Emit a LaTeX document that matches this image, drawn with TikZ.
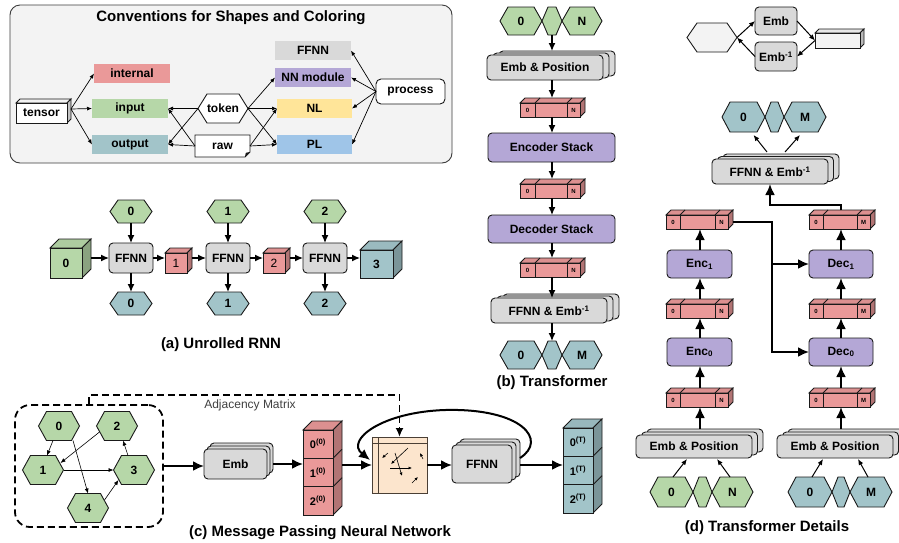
\documentclass[tikz,border=0pt]{standalone}
\usepackage{fontspec}
\setmainfont{Liberation Sans}
\usetikzlibrary{arrows.meta,calc}
\definecolor{cgreen}{HTML}{B6D7A8}
\definecolor{cred}{HTML}{EA9999}
\definecolor{cblue}{HTML}{A2C4C9}
\definecolor{cgray}{HTML}{D9D9D9}
\definecolor{cpurple}{HTML}{B4A7D6}
\definecolor{cyellow}{HTML}{FFE599}
\definecolor{cpl}{HTML}{9FC5E8}
\definecolor{cpeach}{HTML}{FCE5CD}
\definecolor{cbg}{HTML}{F3F3F3}
\definecolor{cline}{HTML}{1A1A1A}
\definecolor{cmat}{HTML}{4A3F35}
\tikzset{
 shapeline/.style={draw=cline, line width=0.9pt},
 txt/.style={inner sep=0pt, outer sep=0pt, font=\fontsize{12}{14}\selectfont\bfseries, text=black},
 rbox/.style={shapeline, rounded corners=4pt, txt},
 flat/.style={txt, minimum width=76, minimum height=19},
 captxt/.style={font=\fontsize{15}{17}\selectfont\bfseries},
 tinylbl/.style={inner sep=0pt, font=\fontsize{6}{7}\selectfont\bfseries},
 thinarr/.style={-{Latex[length=5pt,width=4pt]}, line width=0.7pt},
 marr/.style={-{Latex[length=6pt,width=5pt]}, line width=1pt},
 midarr/.style={-{Latex[length=8pt,width=7pt]}, line width=1.3pt},
 bigarr/.style={-{Latex[length=11pt,width=10pt]}, line width=2pt},
 dashbox/.style={draw=black, line width=1.8pt, dash pattern=on 7pt off 4pt},
}
% hexagon: name, cx, cy, w, h, inset, fill, text
\newcommand{\hexn}[8]{%
  \filldraw[shapeline, fill=#7] ({#2-#4/2},{#3}) -- ({#2-#4/2+#6},{#3-#5/2}) -- ({#2+#4/2-#6},{#3-#5/2}) -- ({#2+#4/2},{#3}) -- ({#2+#4/2-#6},{#3+#5/2}) -- ({#2-#4/2+#6},{#3+#5/2}) -- cycle;
  \node[txt, minimum width={#4}, minimum height={#5}] (#1) at (#2,#3) {#8};
}
% cuboid: name, x1, y1, x2, y2, depth, fill, text
\newcommand{\cuben}[8]{%
  \filldraw[shapeline, fill=#7!95!black] (#2,#3) -- ({#2+#6},{#3-#6}) -- ({#4+#6},{#3-#6}) -- (#4,#3) -- cycle;
  \filldraw[shapeline, fill=#7!76!black] (#4,#3) -- ({#4+#6},{#3-#6}) -- ({#4+#6},{#5-#6}) -- (#4,#5) -- cycle;
  \node[shapeline, txt, fill=#7, minimum width={#4-#2}, minimum height={#5-#3}] (#1) at ({(#2+#4)/2},{(#3+#5)/2}) {#8};
  \coordinate (#1s) at ({#4+#6},{(#3+#5)/2});
}
% stacked boxes: name, x1, y1, x2, y2, dx, dy, fill, text
\newcommand{\stackn}[9]{%
  \filldraw[shapeline, fill=#8, rounded corners=4pt] ({#2+2*#6},{#3-2*#7}) rectangle ({#4+2*#6},{#5-2*#7});
  \filldraw[shapeline, fill=#8, rounded corners=4pt] ({#2+#6},{#3-#7}) rectangle ({#4+#6},{#5-#7});
  \node[rbox, fill=#8, minimum width={#4-#2}, minimum height={#5-#3}] (#1) at ({(#2+#4)/2},{(#3+#5)/2}) {#9};
  \coordinate (#1t) at ({(#2+#4)/2},{#3-2*#7});
  \coordinate (#1r) at ({#4+2*#6},{(#3+#5)/2});
}
% tensor bar: name, x1, y1, x2, y2, c1, c2, left label, right label
\newcommand{\barn}[9]{%
  \filldraw[shapeline, line width=0.8pt, fill=cred!94!black] (#2,#3) -- ({#2+5},{#3-5}) -- ({#4+5},{#3-5}) -- (#4,#3) -- cycle;
  \draw[shapeline, line width=0.8pt] (#6,#3) -- ({#6+5},{#3-5}) (#7,#3) -- ({#7+5},{#3-5});
  \filldraw[shapeline, line width=0.8pt, fill=cred!76!black] (#4,#3) -- ({#4+5},{#3-5}) -- ({#4+5},{#5-5}) -- (#4,#5) -- cycle;
  \node[shapeline, line width=0.8pt, fill=cred, inner sep=0pt, outer sep=0pt, minimum width={#4-#2}, minimum height={#5-#3}] (#1) at ({(#2+#4)/2},{(#3+#5)/2}) {};
  \draw[shapeline, line width=0.8pt] (#6,#3) -- (#6,#5) (#7,#3) -- (#7,#5);
  \node[tinylbl] (#1a) at ({(#2+#6)/2},{(#3+#5)/2}) {#8};
  \node[tinylbl] (#1b) at ({(#7+#4)/2},{(#3+#5)/2}) {#9};
  \coordinate (#1t) at ({(#2+#4)/2+2.5},{#3-5});
  \coordinate (#1s) at ({#4+5},{(#3+#5)/2});
}
% vertical stack of three cells: name, x1, y1, x2, y2, fill, l0, l1, l2
\newcommand{\vstackn}[9]{%
  \filldraw[shapeline, fill=#6!94!black] (#2,#3) -- ({#2+9},{#3-9}) -- ({#4+9},{#3-9}) -- (#4,#3) -- cycle;
  \filldraw[shapeline, fill=#6!76!black] (#4,#3) -- ({#4+9},{#3-9}) -- ({#4+9},{#5-9}) -- (#4,#5) -- cycle;
  \draw[shapeline] (#4,{#3+(#5-#3)/3}) -- ({#4+9},{#3+(#5-#3)/3-9}) (#4,{#3+2*(#5-#3)/3}) -- ({#4+9},{#3+2*(#5-#3)/3-9});
  \node[shapeline, fill=#6, inner sep=0pt, outer sep=0pt, minimum width={#4-#2}, minimum height={#5-#3}] (#1) at ({(#2+#4)/2},{(#3+#5)/2}) {};
  \draw[shapeline] (#2,{#3+(#5-#3)/3}) -- (#4,{#3+(#5-#3)/3}) (#2,{#3+2*(#5-#3)/3}) -- (#4,{#3+2*(#5-#3)/3});
  \node[txt, font=\fontsize{11}{13}\selectfont\bfseries] (#1a) at ({(#2+#4)/2},{#3+(#5-#3)/6}) {#7};
  \node[txt, font=\fontsize{11}{13}\selectfont\bfseries] (#1b) at ({(#2+#4)/2},{#3+(#5-#3)/2}) {#8};
  \node[txt, font=\fontsize{11}{13}\selectfont\bfseries] (#1c) at ({(#2+#4)/2},{#3+5*(#5-#3)/6}) {#9};
  \coordinate (#1s) at ({#4+9},{(#3+#5)/2});
}
\begin{document}
\begin{tikzpicture}[x=1pt,y=-1pt]
\useasboundingbox (0,0) rectangle (899,542);
\fill[white] (0,0) rectangle (899,542);

%% ---------------- Conventions ----------------
\draw[draw=cline!85, fill=cbg, line width=0.9pt, rounded corners=10pt] (10,5) rectangle (452,163);
\node[font=\fontsize{15}{17}\selectfont\bfseries] (convtitle) at (231,18) {Conventions for Shapes and Coloring};
\cuben{tensor}{16}{103}{67}{123}{4}{white}{tensor}
\node[flat, fill=cred] (internal) at (132,73.5) {internal};
\node[flat, fill=cgreen] (input) at (130,108.5) {input};
\node[flat, fill=cblue] (output) at (130,144.5) {output};
\hexn{token}{223}{108.5}{50}{29}{9}{white}{token}
\filldraw[shapeline, fill=white] (195,135) -- (250,135) -- (250,152) -- (245,157) -- (195,157) -- cycle;
\fill[cline] (250,152) -- (245,157) -- (245.8,152.8) -- cycle;
\node[txt, minimum width=55, minimum height=22] (raw) at (222.5,146) {raw};
\node[flat, fill=cgray] (ffnnk) at (313,50.5) {FFNN};
\node[flat, fill=cpurple] (nnmod) at (313,77.5) {NN module};
\node[flat, fill=cyellow, minimum width=75] (nl) at (314.5,108.5) {NL};
\node[flat, fill=cpl, minimum width=75] (pl) at (314.5,144.5) {PL};
\node[rbox, fill=white, rounded corners=5pt, minimum width=69, minimum height=25] (process) at (410.5,91.5) {process};
\draw[thinarr] ($(tensor.east)+(4,-4)$) -- (internal.west);
\draw[thinarr] ($(tensor.east)+(4,-4)$) -- (input.west);
\draw[thinarr] ($(tensor.east)+(4,-4)$) -- (output.west);
\draw[thinarr] (token.west) -- (input.east);
\draw[thinarr] (token.west) -- (output.east);
\draw[thinarr] (raw.west) -- (input.east);
\draw[thinarr] (raw.west) -- (output.east);
\draw[thinarr] (token.east) -- (nnmod.west);
\draw[thinarr] (token.east) -- (nl.west);
\draw[thinarr] (token.east) -- (pl.west);
\draw[thinarr] (raw.east) -- (nl.west);
\draw[thinarr] (raw.east) -- (pl.west);
\draw[thinarr] (process.west) -- (ffnnk.east);
\draw[thinarr] (process.west) -- (nnmod.east);
\draw[thinarr] (process.west) -- (nl.east);
\draw[thinarr] (process.west) -- (pl.east);

%% ---------------- (a) Unrolled RNN ----------------
\cuben{c0}{50}{248}{82}{278}{9}{cgreen}{0}
\cuben{r1}{165}{253}{187}{273}{5}{cred}{\mdseries 1}
\cuben{r2}{263}{253}{285}{273}{5}{cred}{\mdseries 2}
\cuben{c3}{360}{250}{393}{278}{9}{cblue}{3}
\node[rbox, fill=cgray, minimum width=44, minimum height=30] (f1) at (131,258) {FFNN};
\node[rbox, fill=cgray, minimum width=44, minimum height=30] (f2) at (228,258) {FFNN};
\node[rbox, fill=cgray, minimum width=44, minimum height=30] (f3) at (325,258) {FFNN};
\hexn{x0}{131}{211.5}{42}{23}{8}{cgreen}{0}
\hexn{x1}{228}{211.5}{42}{23}{8}{cgreen}{1}
\hexn{x2}{325}{211.5}{42}{23}{8}{cgreen}{2}
\hexn{y0}{131}{303.5}{42}{23}{8}{cblue}{0}
\hexn{y1}{228}{303.5}{42}{23}{8}{cblue}{1}
\hexn{y2}{325}{303.5}{42}{23}{8}{cblue}{2}
\foreach \i in {0,1,2}{
  \pgfmathtruncatemacro\j{\i+1}
  \draw[midarr] (x\i.south) -- (f\j.north);
  \draw[midarr] (f\j.south) -- (y\i.north);
}
\draw[midarr] (f1.west -| c0s) -- (f1.west);
\draw[midarr] (f1.east) -- (f1.east -| r1.west);
\draw[midarr] (f2.west -| r1s) -- (f2.west);
\draw[midarr] (f2.east) -- (f2.east -| r2.west);
\draw[midarr] (f3.west -| r2s) -- (f3.west);
\draw[midarr] (f3.east) -- (f3.east -| c3.west);
\node[captxt] (capa) at (221,345) {(a) Unrolled RNN};

%% ---------------- (b) Transformer ----------------
\coordinate (colb) at (552,0);
\hexn{bg0}{521}{21}{42}{28}{8}{cgreen}{0}
\hexn{bgm}{552}{21}{20}{28}{6}{cgreen}{}
\hexn{bgn}{582}{21}{40}{28}{8}{cgreen}{N}
\stackn{bemb}{487}{55}{603}{80}{6}{2}{cgray}{Emb \& Position}
\barn{bba}{520}{103}{580}{117}{535}{567}{0}{N}
\node[rbox, fill=cpurple, minimum width=127, minimum height=29] (benc) at (551.5,147.5) {Encoder Stack};
\barn{bbb}{520}{184}{580}{198}{535}{567}{0}{N}
\node[rbox, fill=cpurple, minimum width=127, minimum height=28] (bdec) at (551.5,229) {Decoder Stack};
\barn{bbc}{520}{263}{580}{277}{535}{567}{0}{N}
\stackn{bffn}{491}{298}{607}{323}{6}{2}{cgray}{FFNN \& Emb\textsuperscript{-1}}
\hexn{bo0}{521}{355}{42}{28}{8}{cblue}{0}
\hexn{bom}{552}{355}{20}{28}{6}{cblue}{}
\hexn{bon}{582}{355}{40}{28}{8}{cblue}{M}
\draw[midarr] (colb |- bgm.south) -- (colb |- bembt);
\draw[midarr] (colb |- bemb.south) -- (colb |- bbat);
\draw[midarr] (colb |- bba.south) -- (colb |- benc.north);
\draw[midarr] (colb |- benc.south) -- (colb |- bbbt);
\draw[midarr] (colb |- bbb.south) -- (colb |- bdec.north);
\draw[midarr] (colb |- bdec.south) -- (colb |- bbct);
\draw[midarr] (colb |- bbc.south) -- (colb |- bffn.north);
\draw[midarr] (colb |- bffn.south) -- (colb |- bom.north);
\node[captxt] (capb) at (552,383) {(b) Transformer};

%% ---------------- top right legend ----------------
\hexn{thex}{712}{37.5}{50}{29}{10}{cbg}{}
\node[rbox, fill=cgray, minimum width=42, minimum height=28] (temb) at (776,21) {Emb};
\node[rbox, fill=cgray, minimum width=42, minimum height=29] (tembi) at (776,56.5) {Emb\textsuperscript{-1}};
\cuben{tcube}{815}{33}{860}{48}{4}{cbg}{}
\draw[marr] (thex.east) -- (temb.west);
\draw[marr] (temb.east) -- (tcube.west);
\draw[marr] (tcube.west) -- (tembi.east);
\draw[marr] (tembi.west) -- (thex.east);

%% ---------------- (d) Transformer details ----------------
\coordinate (colL) at (700,0);
\coordinate (colR) at (841,0);
\coordinate (jx) at (772,0);
\hexn{dh0}{743.5}{117}{43}{30}{8}{cblue}{0}
\hexn{dhm}{774.5}{117}{19}{30}{6}{cblue}{}
\hexn{dhn}{805}{117}{42}{30}{8}{cblue}{M}
\stackn{dffn}{712}{159}{828}{184}{5.5}{2.5}{cgray}{FFNN \& Emb\textsuperscript{-1}}
\draw[marr] ($(dffn.north)+(-3,-7)$) -- ($(dh0.south)+(10,3)$);
\draw[marr] ($(dffn.north)+(15,-7)$) -- ($(dhn.south)+(-5,3)$);

\barn{dla}{666}{215}{728}{229}{680}{715}{0}{N}
\node[rbox, fill=cpurple, minimum width=65, minimum height=28] (enc1) at (699.5,264) {Enc\textsubscript{1}};
\barn{dlb}{666}{304}{728}{318}{680}{715}{0}{N}
\node[rbox, fill=cpurple, minimum width=65, minimum height=28] (enc0) at (699.5,352) {Enc\textsubscript{0}};
\barn{dlc}{666}{393}{728}{407}{680}{715}{0}{N}
\stackn{dembl}{636}{435}{752}{458}{5.5}{3}{cgray}{Emb \& Position}
\hexn{dg0}{671.5}{492}{43}{30}{8}{cgreen}{0}
\hexn{dgm}{702.5}{492}{19}{30}{6}{cgreen}{}
\hexn{dgn}{732.5}{492}{41}{30}{8}{cgreen}{N}

\barn{dra}{809}{215}{870}{229}{823}{857}{0}{M}
\node[rbox, fill=cpurple, minimum width=64, minimum height=28] (dec1) at (841,264) {Dec\textsubscript{1}};
\barn{drb}{809}{304}{870}{318}{823}{857}{0}{M}
\node[rbox, fill=cpurple, minimum width=64, minimum height=28] (dec0) at (841,352) {Dec\textsubscript{0}};
\barn{drc}{809}{393}{870}{407}{823}{857}{0}{M}
\stackn{dembr}{777}{435}{893}{458}{5.5}{3}{cgray}{Emb \& Position}
\hexn{db0}{810}{492}{44}{30}{8}{cblue}{0}
\hexn{dbm}{841}{492}{18}{30}{6}{cblue}{}
\hexn{dbn}{871}{492}{42}{30}{8}{cblue}{M}

\draw[bigarr] (colL |- demblt) -- (colL |- dlc.south);
\draw[bigarr] (colL |- dlct) -- (colL |- enc0.south);
\draw[bigarr] (colL |- enc0.north) -- (colL |- dlb.south);
\draw[bigarr] (colL |- dlbt) -- (colL |- enc1.south);
\draw[bigarr] (colL |- enc1.north) -- (colL |- dla.south);
\draw[bigarr] (colR |- dembrt) -- (colR |- drc.south);
\draw[bigarr] (colR |- drct) -- (colR |- dec0.south);
\draw[bigarr] (colR |- dec0.north) -- (colR |- drb.south);
\draw[bigarr] (colR |- drbt) -- (colR |- dec1.south);
\draw[bigarr] (colR |- dec1.north) -- (colR |- dra.south);
\draw[bigarr] (dlas) -| (jx |- dec0.west) -- (dec0.west);
\draw[bigarr] (jx |- dec1.west) -- (dec1.west);
\draw[bigarr] (colR |- drat) -- ++(0,-5) -| (dffn.south);
\draw[marr] ($(dg0.north)+(1.5,0)$) -- ($(dembl.south)+(-7,1)$);
\draw[marr] ($(dgn.north)+(-2.5,0)$) -- ($(dembl.south)+(23,1)$);
\draw[marr] ($(db0.north)+(2,0)$) -- ($(dembr.south)+(-12,1)$);
\draw[marr] ($(dbn.north)+(-3,0)$) -- ($(dembr.south)+(23,1)$);
\node[captxt] (capd) at (767,528) {(d) Transformer Details};

%% ---------------- (c) MPNN ----------------
\node[dashbox, rounded corners=15pt, minimum width=148, minimum height=122, inner sep=0pt, outer sep=0pt] (graph) at (89,466) {};
\hexn{g0}{59}{426}{41}{29}{8}{cgreen}{0}
\hexn{g2}{117}{426}{41}{29}{8}{cgreen}{2}
\hexn{g1}{43}{470}{41}{29}{8}{cgreen}{1}
\hexn{g3}{134}{470}{41}{29}{8}{cgreen}{3}
\hexn{g4}{88}{508}{41}{29}{8}{cgreen}{4}
\draw[thinarr, line width=0.6pt] ($(g0.south)+(-6,0)$) -- ($(g1.north)+(4,0)$);
\draw[thinarr, line width=0.6pt] ($(g2.west)+(3,6)$) -- ($(g1.east)+(-3,-7)$);
\draw[thinarr, line width=0.6pt] ($(g0.south)+(14,0)$) -- (g4.north);
\draw[thinarr, line width=0.6pt] (g1.east) -- (g3.west);
\draw[thinarr, line width=0.6pt] ($(g3.north)+(-6,0)$) -- ($(g2.south)+(6,0)$);
\draw[thinarr, line width=0.6pt] ($(g4.east)+(-4,-8)$) -- ($(g3.west)+(5,10)$);
\node[font=\fontsize{12}{14}\selectfont, text=black!75] (adj) at (250,405) {Adjacency Matrix};

\stackn{cemb}{204}{449}{267}{479}{3}{3}{cgray}{Emb}
\vstackn{cvred}{303}{430}{333}{515}{cred}{0\textsuperscript{(0)}}{1\textsuperscript{(0)}}{2\textsuperscript{(0)}}
\node[draw=cmat, fill=cpeach, line width=0.8pt, inner sep=0pt, outer sep=0pt, minimum width=55, minimum height=56] (mat) at (399.5,465) {};
\draw[cmat, line width=0.8pt] ($(mat.north west)+(0,6)$) -- ($(mat.north east)+(0,6)$);
\draw[cmat, line width=0.8pt] ($(mat.north west)+(6,0)$) -- ($(mat.south west)+(6,0)$);
\begin{scope}[-{Latex[length=3.5pt,width=3pt]}, line width=0.6pt]
\draw (388,453) -- (382,458);
\draw (408,448) -- (391,464);
\draw (395,453) -- (402,476);
\draw (390,468) -- (412,468);
\draw (423,459) -- (420,453);
\draw (412,483) -- (418,477);
\end{scope}
\stackn{cffn}{452}{445}{512}{483}{4}{3}{cgray}{FFNN}
\vstackn{cvblu}{563}{428}{593}{513}{cblue}{0\textsuperscript{(T)}}{1\textsuperscript{(T)}}{2\textsuperscript{(T)}}

\draw[bigarr] (graph.east) -- (graph.east -| cemb.west);
\draw[bigarr] (cembr) -- (cembr -| cvred.west);
\draw[bigarr] (mat.west -| cvreds) -- (mat.west);
\draw[bigarr] (mat.east) -- (mat.east -| cffn.west);
\draw[bigarr] (mat.east -| cffnr) -- (mat.east -| cvblu.west);
\draw[bigarr] ($(cffnr)+(0,-6)$) .. controls (548,440) and (522,408) .. (445,410) .. controls (382,412) and (345,440) .. ($(mat.west)+(-2,-5)$);
\draw[dashbox, {Bar[width=6pt,line width=1.2pt]}-{Latex[length=9pt,width=8pt]}] (graph.north) -- ++(0,-10) -| (mat.north);
\node[captxt] (capc) at (320,533) {(c) Message Passing Neural Network};
\end{tikzpicture}
\end{document}
